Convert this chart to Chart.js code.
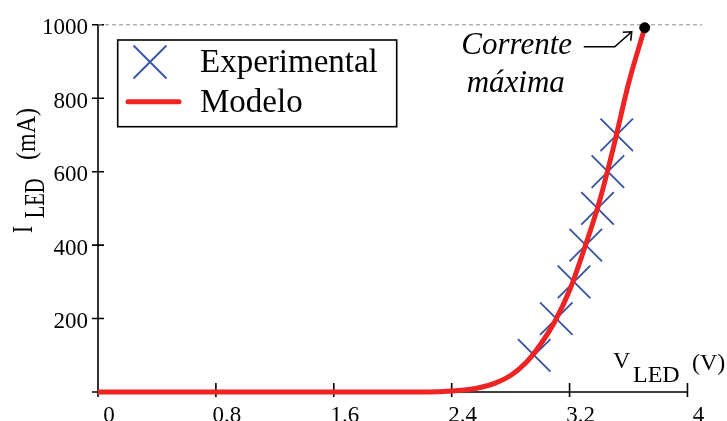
<!DOCTYPE html>
<html>
<head>
<meta charset="utf-8">
<script src="https://cdn.jsdelivr.net/npm/chart.js@4"></script>
<style>
  html, body { margin: 0; padding: 0; background: #fff; }
</style>
</head>
<body>
<canvas id="ledChart" width="727" height="421"></canvas>
<script>
// values
const expVoltage = [2.96, 3.11, 3.23, 3.31, 3.39, 3.46, 3.52];
const expCurrent = [100, 200, 300, 400, 500, 600, 700];
const modelVoltage = [0, 0.5, 1.0, 1.5, 2.0, 2.3, 2.4, 2.5, 2.6, 2.7, 2.8, 2.9, 3.0, 3.1, 3.2, 3.3, 3.4, 3.5, 3.6, 3.71];
const modelCurrent = [0, 0, 0, 0, 0, 1, 3, 6, 13, 25, 45, 78, 128, 192, 277, 390, 515, 670, 840, 992];
const maxVoltage = [3.71];
const maxCurrent = [992];
const limitCurrent = 1000;
const xTicks = [0, 0.8, 1.6, 2.4, 3.2, 4];
const yTicks = [0, 200, 400, 600, 800, 1000];
const yTickLabels = ["", "200", "400", "600", "800", "1000"];
const xMax = 4.1;

const serif = "'Liberation Serif', 'Times New Roman', serif";
const RED = "#ee2424";
const BLUE = "#3553a6";

function pts(xs, ys) {
    return xs.map((x, i) => ({ x: x, y: ys[i] }));
}

// axis lines and crossing tick marks
const axesPlugin = {
    id: "axes",
    beforeDatasetsDraw(chart) {
        const ctx = chart.ctx;
        const xs = chart.scales.x, ys = chart.scales.y;
        const x0 = xs.getPixelForValue(0), y0 = ys.getPixelForValue(0);
        ctx.save();
        ctx.strokeStyle = "#000";
        ctx.lineWidth = 1.6;
        ctx.beginPath();
        ctx.moveTo(x0, ys.getPixelForValue(yTicks[yTicks.length - 1]));
        ctx.lineTo(x0, y0);
        ctx.moveTo(x0, y0);
        ctx.lineTo(xs.getPixelForValue(xTicks[xTicks.length - 1]), y0);
        yTicks.forEach(v => {
            const p = ys.getPixelForValue(v);
            ctx.moveTo(x0 - 6, p);
            ctx.lineTo(x0 + 6, p);
        });
        xTicks.forEach(v => {
            const p = xs.getPixelForValue(v);
            ctx.moveTo(p, y0 - 9);
            ctx.lineTo(p, y0 + 5);
        });
        ctx.stroke();
        ctx.restore();
    }
};

function rotatedText(ctx, text, font, baseX, startY, length) {
    ctx.save();
    ctx.font = font;
    ctx.translate(baseX, startY);
    ctx.rotate(-Math.PI / 2);
    const w = ctx.measureText(text).width;
    ctx.scale(length / w, 1);
    ctx.fillText(text, 0, 0);
    ctx.restore();
}

// axis titles, legend box and the "Corrente máxima" note
const decorPlugin = {
    id: "decor",
    afterDraw(chart) {
        const ctx = chart.ctx;
        ctx.save();
        ctx.fillStyle = "#000";
        ctx.textBaseline = "alphabetic";
        ctx.textAlign = "left";

        // x title
        ctx.font = "24px " + serif;
        ctx.fillText("V", 613, 368);
        ctx.fillText("LED", 633, 382);
        ctx.fillText("(V)", 692, 370);

        // y title
        rotatedText(ctx, "I", "29px " + serif, 31.7, 233, 7);
        rotatedText(ctx, "LED", "29px " + serif, 44.3, 218.3, 40);
        rotatedText(ctx, "(mA)", "27px " + serif, 35, 160, 52);

        // legend
        ctx.strokeStyle = "#000";
        ctx.lineWidth = 1.6;
        ctx.strokeRect(117.7, 40, 279, 86.7);
        const exp = chart.data.datasets[1];
        const mod = chart.data.datasets[0];
        ctx.strokeStyle = exp.pointBorderColor;
        ctx.lineWidth = exp.pointBorderWidth;
        ctx.beginPath();
        ctx.moveTo(133.5, 45.5); ctx.lineTo(166.5, 78.5);
        ctx.moveTo(166.5, 45.5); ctx.lineTo(133.5, 78.5);
        ctx.stroke();
        ctx.strokeStyle = mod.borderColor;
        ctx.lineWidth = mod.borderWidth;
        ctx.lineCap = "round";
        ctx.beginPath();
        ctx.moveTo(128, 101.7); ctx.lineTo(179, 101.7);
        ctx.stroke();
        ctx.font = "33px " + serif;
        ctx.fillText(exp.label, 200, 72);
        ctx.fillText(mod.label, 200, 111.7);

        // annotation near the max point
        const px = chart.scales.x.getPixelForValue(maxVoltage[0]);
        const py = chart.scales.y.getPixelForValue(maxCurrent[0]);
        ctx.font = "italic 31px " + serif;
        ctx.textAlign = "center";
        ctx.fillText("Corrente", px - 128, py + 26);
        ctx.fillText("máxima", px - 129, py + 64);
        ctx.strokeStyle = "#000";
        ctx.lineWidth = 1.6;
        ctx.lineCap = "butt";
        const tipX = px - 13, tipY = py + 4;
        ctx.beginPath();
        ctx.moveTo(px - 61, py + 19);
        ctx.lineTo(px - 30, py + 19);
        ctx.lineTo(tipX, tipY);
        ctx.moveTo(tipX - 9, tipY + 0.5);
        ctx.lineTo(tipX, tipY);
        ctx.lineTo(tipX - 1, tipY + 9);
        ctx.stroke();
        ctx.restore();
    }
};

const ctx = document.getElementById("ledChart").getContext("2d");

new Chart(ctx, {
    type: "scatter",
    data: {
        datasets: [
            {
                label: "Modelo",
                data: pts(modelVoltage, modelCurrent),
                showLine: true,
                borderColor: RED,
                borderWidth: 5,
                pointRadius: 0,
                cubicInterpolationMode: "monotone",
                clip: false,
                order: 1
            },
            {
                label: "Experimental",
                data: pts(expVoltage, expCurrent),
                pointStyle: "crossRot",
                pointRadius: 23,
                pointBorderColor: BLUE,
                pointBorderWidth: 1.8,
                pointBackgroundColor: BLUE,
                clip: false,
                order: 2
            },
            {
                label: "limite",
                data: pts([0, xMax], [limitCurrent, limitCurrent]),
                showLine: true,
                borderColor: "#8c8c8c",
                borderWidth: 1,
                borderDash: [4, 3],
                pointRadius: 0,
                clip: false,
                order: 3
            },
            {
                label: "máximo",
                data: pts(maxVoltage, maxCurrent),
                pointRadius: 5,
                pointBackgroundColor: "#000",
                pointBorderColor: "#000",
                clip: false,
                order: 0
            }
        ]
    },
    options: {
        responsive: false,
        animation: false,
        devicePixelRatio: 1,
        layout: { padding: { top: 21, right: 20, left: 0, bottom: 0 } },
        plugins: {
            legend: { display: false },
            tooltip: { enabled: false }
        },
        scales: {
            x: {
                type: "linear",
                min: 0,
                max: xMax,
                afterBuildTicks: s => { s.ticks = xTicks.map(v => ({ value: v })); },
                afterFit: s => { s.height = 29; },
                grid: { display: false },
                border: { display: false },
                ticks: {
                    color: "#000",
                    font: { family: serif, size: 23 },
                    padding: 2,
                    labelOffset: 11,
                    maxRotation: 0,
                    autoSkip: false,
                    callback: v => String(v)
                }
            },
            y: {
                type: "linear",
                min: 0,
                max: 1000,
                afterBuildTicks: s => { s.ticks = yTicks.map(v => ({ value: v })); },
                afterFit: s => { s.width = 98; },
                grid: { display: false },
                border: { display: false },
                ticks: {
                    color: "#000",
                    font: { family: serif, size: 23 },
                    padding: 2,
                    labelOffset: 3.5,
                    autoSkip: false,
                    callback: (v, i) => yTickLabels[i]
                }
            }
        }
    },
    plugins: [axesPlugin, decorPlugin]
});
</script>
</body>
</html>
